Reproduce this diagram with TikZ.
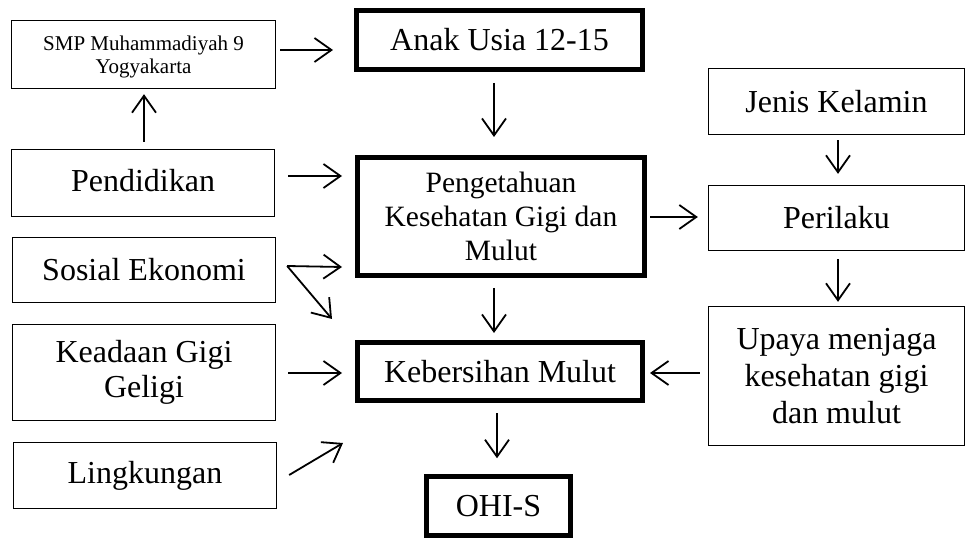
\documentclass[tikz,border=0pt]{standalone}
\usepackage{fontspec}
\setmainfont{Liberation Serif}
\usetikzlibrary{arrows.meta,calc}
\newcommand{\shiftdown}[2]{\raisebox{-#1}[\height][\depth]{#2}}
\begin{document}
\begin{tikzpicture}[x=1pt,y=-1pt,
  thinbox/.style={draw,line width=1.3pt,inner sep=0pt,align=center,font=\fontsize{32}{36}\selectfont},
  thickbox/.style={draw,line width=5pt,inner sep=0pt,align=center,font=\fontsize{32}{36}\selectfont},
  arr/.style={line width=1.8pt,-{Straight Barb[length=17pt,width=24pt,line width=1.8pt]}}]
\useasboundingbox (0,0) rectangle (967,540);
% thin boxes
\node[thinbox,minimum width=264pt,minimum height=68pt,font=\fontsize{21}{23}\selectfont] (smp) at (143.5,54.5) {\shiftdown{3pt}{\begin{tabular}{@{}c@{}}SMP Muhammadiyah 9\\Yogyakarta\end{tabular}}};
\node[thinbox,minimum width=263pt,minimum height=67pt] (pend) at (143,183) {\shiftdown{-2pt}{Pendidikan}};
\node[thinbox,minimum width=263pt,minimum height=65pt] (sos) at (144,270) {Sosial Ekonomi};
\node[thinbox,minimum width=263pt,minimum height=96pt,font=\fontsize{32}{35}\selectfont] (kead) at (144,372.5) {Keadaan Gigi\\Geligi};
\node[thinbox,minimum width=263pt,minimum height=66pt] (ling) at (145,475.5) {Lingkungan};
\node[thinbox,minimum width=256pt,minimum height=66pt] (jenis) at (836.5,101.5) {Jenis Kelamin};
\node[thinbox,minimum width=256pt,minimum height=65pt] (peril) at (836.5,218) {Perilaku};
\node[thinbox,minimum width=256pt,minimum height=139pt,font=\fontsize{32}{37}\selectfont] (upaya) at (836.5,376) {Upaya menjaga\\kesehatan gigi\\dan mulut};
% thick boxes
\node[thickbox,minimum width=286pt,minimum height=59pt] (anak) at (499.5,40) {Anak Usia 12-15};
\node[thickbox,minimum width=287pt,minimum height=118pt,font=\fontsize{29.5}{34}\selectfont] (peng) at (501,216.5) {Pengetahuan\\Kesehatan Gigi dan\\Mulut};
\node[thickbox,minimum width=285pt,minimum height=58pt] (keb) at (500,371.5) {Kebersihan Mulut};
\node[thickbox,line width=4.5pt,minimum width=144pt,minimum height=59pt] (ohi) at (498.5,506) {OHI-S};
% arrows
\draw[arr] ($(smp.east)+(4,-4.5)$) -- ($(anak.west)+(-21,10)$);
\draw[arr] ($(pend.north)+(1,-7)$) -- ($(smp.south)+(0.5,5)$);
\draw[arr] ($(pend.east)+(13,-7)$) -- ($(peng.west)+(-13,-40.5)$);
\draw[arr] ($(sos.east)+(11,-4)$) -- ($(peng.west)+(-13,50.5)$);
\draw[arr] ($(sos.east)+(11,-4)$) -- ($(keb.west)+(-23,-52.5)$);
\draw[arr] ($(kead.east)+(12,0.5)$) -- ($(keb.west)+(-13,1.5)$);
\draw[arr] ($(ling.east)+(12,-0.5)$) -- ($(keb.west)+(-12,71.5)$);
\draw[arr] ($(anak.south)+(-5.5,11)$) -- ($(peng.north)+(-7,-18)$);
\draw[arr] ($(peng.east)+(3,0.5)$) -- ($(peril.west)+(-10,-1)$);
\draw[arr] ($(jenis.south)+(1.5,5)$) -- ($(peril.north)+(1.5,-11)$);
\draw[arr] ($(peril.south)+(1.5,8)$) -- ($(upaya.north)+(1.5,-4)$);
\draw[arr] ($(peng.south)+(-7,10)$) -- ($(keb.north)+(-6,-7)$);
\draw[arr] ($(upaya.west)+(-8,-3)$) -- ($(keb.east)+(5,1.5)$);
\draw[arr] ($(keb.south)+(-3,10)$) -- ($(ohi.north)+(-1.5,-16)$);
\end{tikzpicture}
\end{document}
